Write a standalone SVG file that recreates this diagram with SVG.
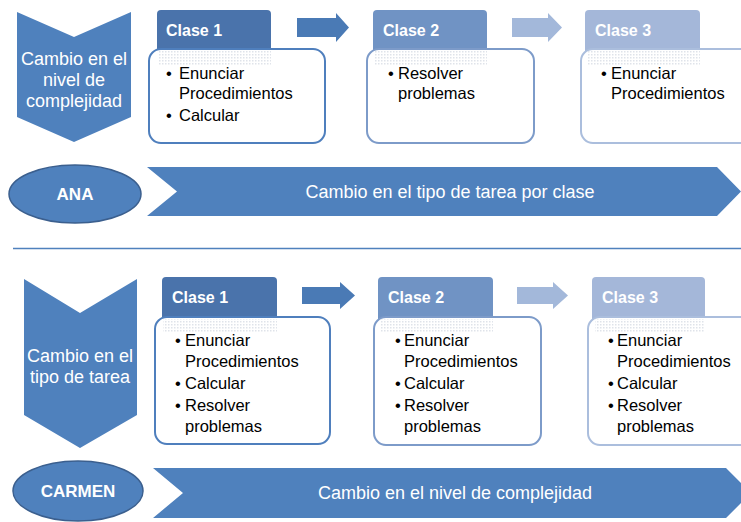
<svg xmlns="http://www.w3.org/2000/svg" width="741" height="522" viewBox="0 0 741 522">
<defs>
<pattern id="dots" width="3" height="3" patternUnits="userSpaceOnUse">
<rect width="3" height="3" fill="#ffffff"/>
<rect width="1.5" height="1.5" fill="#dfe3ea"/>
</pattern>
<style>
.t{font-family:"Liberation Sans",Arial,sans-serif;}
.w{fill:#ffffff;}
.k{fill:#000000;font-size:16.5px;}
.tab{font-size:16px;font-weight:bold;fill:#ffffff;}
.big{font-size:18px;fill:#ffffff;}
.name{font-size:17px;font-weight:bold;fill:#ffffff;}
.chev{fill:#4f81bd;}
.box{fill:#ffffff;stroke-width:2;}
</style>
</defs>
<rect width="741" height="522" fill="#ffffff"/>

<!-- TOP SECTION -->
<g id="top-level">
<polygon class="chev" points="17,12 74,37 131,12 131,117 74,142 17,117"/>
<text class="t big" text-anchor="middle" font-size="18"><tspan x="74" y="65">Cambio en el</tspan><tspan x="74" y="86">nivel de</tspan><tspan x="74" y="107">complejidad</tspan></text>
</g>

<g id="top-clase1">
<rect x="157" y="10" width="114" height="46" rx="4" fill="#4a73ab"/>
<text class="t tab" x="166" y="36">Clase 1</text>
<rect class="box" x="149" y="49" width="176" height="94" rx="12" stroke="#4f7fbd"/>
<rect x="158" y="51" width="113" height="14" fill="url(#dots)"/>
<text class="t k"><tspan x="166" y="79">•</tspan><tspan x="179" y="79">Enunciar</tspan><tspan x="179" y="99">Procedimientos</tspan><tspan x="166" y="121">•</tspan><tspan x="179" y="121">Calcular</tspan></text>
</g>

<g id="top-clase2">
<rect x="373" y="10" width="114" height="46" rx="4" fill="#7093c4"/>
<text class="t tab" x="383" y="36">Clase 2</text>
<rect class="box" x="367" y="49" width="167" height="94" rx="12" stroke="#7d9bc9"/>
<rect x="374" y="51" width="113" height="14" fill="url(#dots)"/>
<text class="t k"><tspan x="388" y="79">•</tspan><tspan x="398" y="79">Resolver</tspan><tspan x="398" y="99">problemas</tspan></text>
</g>

<g id="top-clase3">
<rect x="585" y="10" width="115" height="46" rx="4" fill="#a4b7d9"/>
<text class="t tab" x="595" y="36">Clase 3</text>
<rect class="box" x="581" y="49" width="180" height="94" rx="12" stroke="#abbedd"/>
<rect x="588" y="51" width="112" height="14" fill="url(#dots)"/>
<text class="t k"><tspan x="601" y="79">•</tspan><tspan x="611" y="79">Enunciar</tspan><tspan x="611" y="99">Procedimientos</tspan></text>
</g>

<g id="ana">
<ellipse cx="75" cy="194" rx="66" ry="29" fill="#4f81bd" stroke="#3b5f8e" stroke-width="1.5"/>
<text class="t name" x="75" y="200" text-anchor="middle">ANA</text>
</g>

<g id="ana-band">
<polygon class="chev" points="147,167 717,167 741,191.5 717,216 147,216 177,191.5"/>
<text class="t big" x="450" y="198" text-anchor="middle">Cambio en el tipo de tarea por clase</text>
</g>

<line x1="13" y1="248.5" x2="741" y2="248.5" stroke="#4f81bd" stroke-width="1.3"/>

<!-- BOTTOM SECTION -->
<g id="bottom-level">
<polygon class="chev" points="24,279 80,313 137,279 137,415 80,448 24,415"/>
<text class="t big"><tspan x="80" y="362" text-anchor="middle">Cambio en el</tspan><tspan x="80" y="383" text-anchor="middle">tipo de tarea</tspan></text>
</g>

<g id="bottom-clase1">
<rect x="162" y="277" width="115" height="46" rx="4" fill="#4a73ab"/>
<text class="t tab" x="172" y="303">Clase 1</text>
<rect class="box" x="155" y="317" width="175" height="127" rx="12" stroke="#4f7fbd"/>
<rect x="163" y="319" width="114" height="14" fill="url(#dots)"/>
<text class="t k"><tspan x="175" y="346">•</tspan><tspan x="185" y="346">Enunciar</tspan><tspan x="185" y="367">Procedimientos</tspan><tspan x="175" y="389">•</tspan><tspan x="185" y="389">Calcular</tspan><tspan x="175" y="411">•</tspan><tspan x="185" y="411">Resolver</tspan><tspan x="185" y="432">problemas</tspan></text>
</g>

<g id="bottom-clase2">
<rect x="378" y="277" width="115" height="46" rx="4" fill="#7093c4"/>
<text class="t tab" x="388" y="303">Clase 2</text>
<rect class="box" x="374" y="317" width="167" height="128" rx="12" stroke="#7d9bc9"/>
<rect x="381" y="319" width="112" height="14" fill="url(#dots)"/>
<text class="t k"><tspan x="395" y="346">•</tspan><tspan x="404" y="346">Enunciar</tspan><tspan x="404" y="367">Procedimientos</tspan><tspan x="395" y="389">•</tspan><tspan x="404" y="389">Calcular</tspan><tspan x="395" y="411">•</tspan><tspan x="404" y="411">Resolver</tspan><tspan x="404" y="432">problemas</tspan></text>
</g>

<g id="bottom-clase3">
<rect x="592" y="277" width="113" height="46" rx="4" fill="#a4b7d9"/>
<text class="t tab" x="602" y="303">Clase 3</text>
<rect class="box" x="588" y="317" width="180" height="128" rx="12" stroke="#abbedd"/>
<rect x="595" y="319" width="110" height="14" fill="url(#dots)"/>
<text class="t k"><tspan x="608" y="346">•</tspan><tspan x="617" y="346">Enunciar</tspan><tspan x="617" y="367">Procedimientos</tspan><tspan x="608" y="389">•</tspan><tspan x="617" y="389">Calcular</tspan><tspan x="608" y="411">•</tspan><tspan x="617" y="411">Resolver</tspan><tspan x="617" y="432">problemas</tspan></text>
</g>

<g id="carmen">
<ellipse cx="78" cy="491" rx="65" ry="30" fill="#4f81bd" stroke="#3b5f8e" stroke-width="1.5"/>
<text class="t name" x="78" y="497" text-anchor="middle">CARMEN</text>
</g>

<g id="carmen-band">
<polygon class="chev" points="153,468 726,468 751,493 726,518 153,518 183,493"/>
<text class="t big" x="455" y="499" text-anchor="middle">Cambio en el nivel de complejidad</text>
</g>

<g id="connectors">
<polygon points="297,18 336,18 336,13 349,27.5 336,42 336,37 297,37" fill="#4a7ab5"/>
<polygon points="512,18 548,18 548,13 562,27.5 548,42 548,37 512,37" fill="#a3b8da"/>
<polygon points="302,287 340,287 340,282 355,295.5 340,309 340,304 302,304" fill="#4a7ab5"/>
<polygon points="517,287 553,287 553,282 568,295.5 553,309 553,304 517,304" fill="#a3b8da"/>
</g>
</svg>
